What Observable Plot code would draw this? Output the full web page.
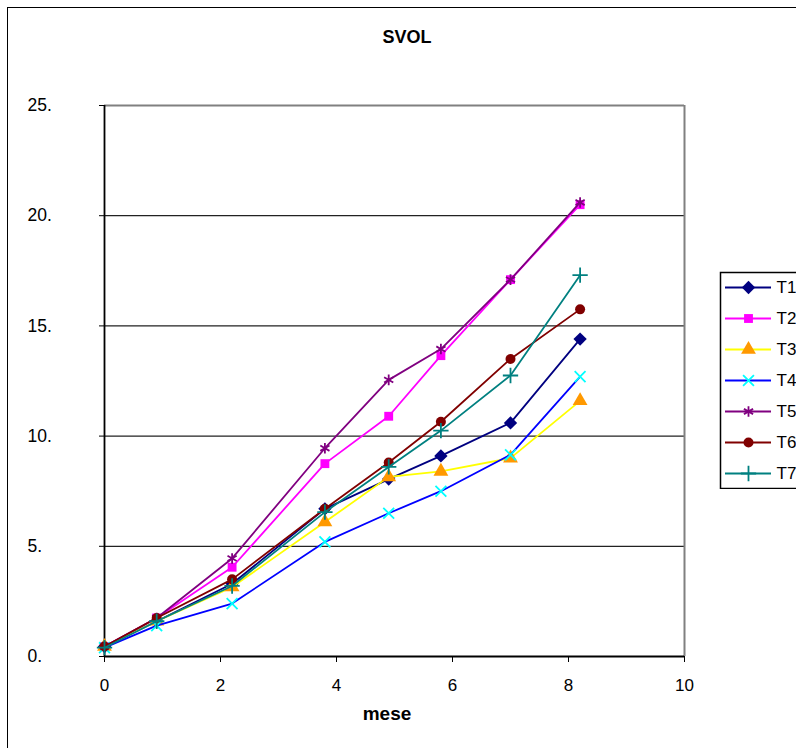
<!DOCTYPE html>
<html><head><meta charset="utf-8">
<script src="https://cdn.jsdelivr.net/npm/d3@7"></script>
<script src="https://cdn.jsdelivr.net/npm/@observablehq/plot@0.6"></script>
<style>
body{margin:0;background:#fff;font-family:"Liberation Sans",Arial,sans-serif;}
#wrap{position:relative;width:796px;height:748px;overflow:hidden;}
#border{position:absolute;left:7px;top:7px;width:900px;height:900px;border:1.5px solid #000;box-sizing:border-box;}
#title{position:absolute;left:0;width:814px;top:27px;text-align:center;font-weight:bold;font-size:18px;}
#xlabel{position:absolute;left:0;width:774px;top:703px;text-align:center;font-weight:bold;font-size:19px;}
#legend{position:absolute;left:713px;top:271px;width:200px;}
#legend svg{max-width:none !important;}
#chart{position:absolute;left:0;top:0;}
</style></head>
<body>
<div id="wrap">
<div id="border"></div>
<div id="chart"></div>
<div id="title">SVOL</div>
<div id="xlabel">mese</div>
<div id="legend"></div>
</div>
<script>
const mese = [0, 0.9, 2.2, 3.8, 4.9, 5.8, 7.0, 8.2];
const T1 = [0.45, 1.6, 3.3, 6.7, 8.05, 9.1, 10.6, 14.4];
const T2 = [0.45, 1.75, 4.05, 8.75, 10.9, 13.65, 17.1, 20.5];
const T3 = [0.45, 1.6, 3.15, 6.1, 8.15, 8.4, 9.0, 11.6];
const T4 = [0.4, 1.4, 2.4, 5.2, 6.5, 7.5, 9.15, 12.7];
const T5 = [0.45, 1.75, 4.45, 9.45, 12.55, 13.95, 17.1, 20.6];
const T6 = [0.45, 1.75, 3.5, 6.7, 8.8, 10.65, 13.5, 15.75];
const T7 = [0.4, 1.6, 3.2, 6.55, 8.6, 10.25, 12.75, 17.3];
const seriesNames = ["T1","T2","T3","T4","T5","T6","T7"];
const seriesValues = [T1,T2,T3,T4,T5,T6,T7];
const xTicks = [0,2,4,6,8,10];
const yTicks = [0,5,10,15,20,25];

const styles = {
  T1:{line:"#000080", symbol:"diamond2", fill:"#000080", stroke:"none", r:6},
  T2:{line:"#FF00FF", symbol:"square", fill:"#FF00FF", stroke:"none", r:5},
  T3:{line:"#FFFF00", symbol:"triangle", fill:"#FF9900", stroke:"none", r:5.5},
  T4:{line:"#0000FF", symbol:"times", fill:"none", stroke:"#00FFFF", r:5},
  T5:{line:"#800080", symbol:"asterisk", fill:"none", stroke:"#800080", r:5},
  T6:{line:"#800000", symbol:"circle", fill:"#800000", stroke:"none", r:5},
  T7:{line:"#008080", symbol:"plus", fill:"none", stroke:"#008080", r:5},
};

const rows = [];
seriesNames.forEach((s,i)=>mese.forEach((m,j)=>rows.push({serie:s, mese:m, v:seriesValues[i][j]})));

const seriesMarks = [];
for (const s of seriesNames) {
  const st = styles[s];
  const d = rows.filter(r=>r.serie===s);
  seriesMarks.push(Plot.line(d,{x:"mese",y:"v",stroke:st.line,strokeWidth:1.8}));
  seriesMarks.push(Plot.dot(d,{x:"mese",y:"v",symbol:()=>st.symbol,fill:st.fill,stroke:st.stroke,strokeWidth:1.8,r:st.r}));
}

const chart = Plot.plot({
  width:796, height:748,
  marginLeft:104, marginRight:112, marginTop:105, marginBottom:92,
  style:{fontFamily:"'Liberation Sans', Arial, sans-serif", fontSize:"17px", background:"transparent", color:"#000"},
  x:{domain:[0,10]},
  y:{domain:[0,25]},
  symbol:{type:"identity"},
  marks:[
    Plot.ruleY([5,10,15,20],{stroke:"#222",strokeWidth:1.2}),
    Plot.ruleY([25],{stroke:"#808080",strokeWidth:2}),
    Plot.ruleX([10],{stroke:"#808080",strokeWidth:2}),
    Plot.ruleX([0],{stroke:"#000",strokeWidth:1.8}),
    Plot.ruleY([0],{stroke:"#000",strokeWidth:1.8}),
    Plot.axisX({ticks:xTicks, tickSize:6, tickPadding:16, label:null, fontSize:17, stroke:"#000", strokeOpacity:1}),
    Plot.axisY({ticks:yTicks, tickSize:5, tickPadding:72, textAnchor:"start", tickFormat:d=>d+".", label:null, fontSize:17.5, strokeOpacity:1}),
    ...seriesMarks
  ]
});
document.getElementById("chart").appendChild(chart);

// legend
const legRows = seriesNames.map(s=>({serie:s}));
const legend = Plot.plot({
  width:200, height:218,
  marginLeft:12, marginRight:142, marginTop:0, marginBottom:0,
  style:{fontFamily:"'Liberation Sans', Arial, sans-serif", fontSize:"17px", background:"transparent", color:"#000"},
  x:{domain:[0,1], axis:null},
  y:{domain:seriesNames, axis:null, padding:0, range:[15.5,218-15.5]},
  symbol:{type:"identity"},
  marks:[
    Plot.frame({stroke:"#000", strokeWidth:1.5, insetLeft:-5, insetRight:-200, insetTop:1, insetBottom:1}),
    ...seriesNames.map(s=>{const st=styles[s]; return Plot.ruleY([s],{y:d=>d,x1:0,x2:1,stroke:st.line,strokeWidth:1.8});}),
    ...seriesNames.map(s=>{const st=styles[s]; return Plot.dot([s],{y:d=>d,x:()=>0.5,symbol:()=>st.symbol,fill:st.fill,stroke:st.stroke,strokeWidth:1.8,r:st.r});}),
    Plot.text(legRows,{y:"serie",x:()=>1,text:"serie",textAnchor:"start",dx:5,fontSize:17})
  ]
});
document.getElementById("legend").appendChild(legend);
</script>
</body></html>
